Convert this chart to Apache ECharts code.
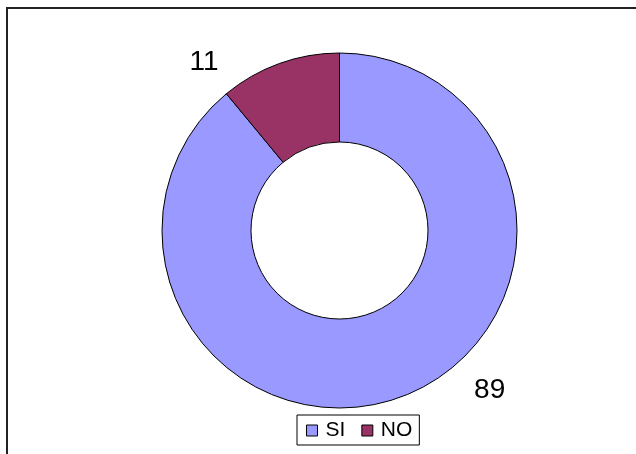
<!DOCTYPE html>
<html>
<head>
<meta charset="utf-8">
<script src="https://cdn.jsdelivr.net/npm/echarts@6/dist/echarts.min.js"></script>
<style>
  html, body { margin: 0; padding: 0; background: #fff; }
  #chart { width: 636px; height: 454px; }
</style>
</head>
<body>
<div id="chart"></div>
<script>
const categories = ['SI', 'NO']
const values = [89, 11]
const colors = ['#9999ff', '#993366']
// label placement relative to the centre: [angle deg, distance px]
const labelSpots = [[-46.7, 219], [128.8, 216]]

const center = [339.5, 230.5]
const chart = echarts.init(document.getElementById('chart'))

const dataOptions = values.map((v, i) => ({
  name: categories[i],
  value: v,
  itemStyle: { color: colors[i] }
}))

chart.setOption({
  animation: false,
  textStyle: { fontFamily: 'Liberation Sans, Arial, sans-serif' },
  graphic: [
    {
      type: 'rect',
      shape: { x: 7, y: 8, width: 700, height: 600 },
      style: { fill: 'none', stroke: '#222', lineWidth: 2 },
      silent: true
    }
  ],
  legend: {
    data: categories,
    left: 297,
    top: 415,
    orient: 'horizontal',
    icon: 'rect',
    itemWidth: 11,
    itemHeight: 11,
    itemGap: 16,
    padding: [5, 7, 4, 9],
    borderColor: '#000',
    borderWidth: 1,
    itemStyle: { borderColor: '#000', borderWidth: 1 },
    textStyle: { color: '#000', fontSize: 21, padding: [0, 0, 0, 3], fontFamily: 'Liberation Sans, Arial, sans-serif' }
  },
  series: [
    {
      type: 'pie',
      center: center,
      radius: [88.5, 177.5],
      startAngle: 90,
      clockwise: true,
      data: dataOptions,
      itemStyle: { borderColor: '#000', borderWidth: 1 },
      label: {
        show: true,
        position: 'outside',
        formatter: '{c}',
        color: '#000',
        fontSize: 28,
        fontFamily: 'Liberation Sans, Arial, sans-serif'
      },
      labelLine: { show: false },
      labelLayout: function (params) {
        const s = labelSpots[params.dataIndex]
        const a = s[0] * Math.PI / 180
        return {
          x: center[0] + s[1] * Math.cos(a),
          y: center[1] - s[1] * Math.sin(a),
          align: 'center',
          verticalAlign: 'middle'
        }
      },
      emphasis: { disabled: true }
    }
  ]
})
</script>
</body>
</html>
